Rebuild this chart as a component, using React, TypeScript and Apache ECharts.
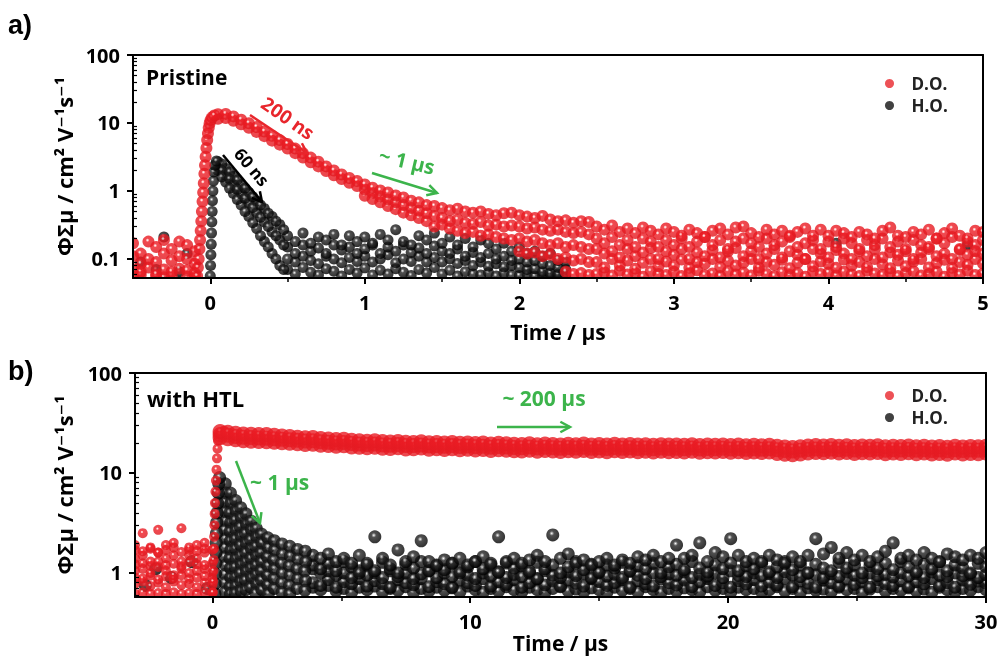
import React, { useEffect, useRef } from "react";
import * as echarts from "echarts";

const _ = null;

// ---------- Panel a (Pristine) ----------
const tA = [-0.5,-0.45,-0.4,-0.35,-0.3,-0.25,-0.2,-0.15,-0.1,-0.05,
0,0.05,0.1,0.15,0.2,0.25,0.3,0.35,0.4,0.45,
0.5,0.55,0.6,0.65,0.7,0.75,0.8,0.85,0.9,0.95,
1,1.05,1.1,1.15,1.2,1.25,1.3,1.35,1.4,1.45,
1.5,1.55,1.6,1.65,1.7,1.75,1.8,1.85,1.9,1.95,
2,2.05,2.1,2.15,2.2,2.25,2.3,2.35,2.4,2.45,
2.5,2.55,2.6,2.65,2.7,2.75,2.8,2.85,2.9,2.95,
3,3.05,3.1,3.15,3.2,3.25,3.3,3.35,3.4,3.45,
3.5,3.55,3.6,3.65,3.7,3.75,3.8,3.85,3.9,3.95,
4,4.05,4.1,4.15,4.2,4.25,4.3,4.35,4.4,4.45,
4.5,4.55,4.6,4.65,4.7,4.75,4.8,4.85,4.9,4.95,
5];

const redA1 = [0.17,0.12,0.18,0.15,0.19,0.14,0.18,0.16,0.13,_,
_,13.5,13.6,12.5,11.2,9.9,8.7,7.5,6.5,5.6,
4.9,4.2,3.6,3.1,2.7,2.3,2,1.75,1.55,1.4,
1.25,1.12,1.02,0.95,0.86,0.8,0.72,0.68,0.62,0.6,
0.56,0.52,0.55,0.5,0.48,0.5,0.46,0.44,0.47,0.48,
0.44,0.42,0.4,0.43,0.38,0.36,0.37,0.34,0.36,0.35,
0.3,0.27,0.31,0.25,0.28,0.24,0.29,0.26,0.23,0.28,
0.25,0.22,0.27,0.24,0.21,0.26,0.28,0.23,0.29,0.3,
0.24,0.21,0.27,0.23,0.26,0.22,0.25,0.28,0.22,0.27,
0.22,0.26,0.24,0.21,0.25,0.23,0.2,0.26,0.29,0.22,
0.21,0.25,0.23,0.27,0.2,0.24,0.28,0.22,0.2,0.26,
0.25];
const redA2 = [0.11,0.085,0.1,0.09,0.12,0.095,0.11,0.1,0.085,_,
_,11.5,11.8,10.8,9.6,8.5,7.4,6.4,5.5,4.8,
4.2,3.6,3.1,2.65,2.3,1.97,1.7,1.5,1.32,1.18,
1.05,0.93,0.83,0.75,0.68,0.62,0.56,0.51,0.47,0.43,
0.4,0.36,0.38,0.34,0.33,0.35,0.31,0.32,0.3,0.31,
0.3,0.28,0.29,0.27,0.26,0.27,0.25,0.24,0.25,0.23,
0.2,0.17,0.21,0.16,0.19,0.15,0.2,0.18,0.15,0.19,
0.16,0.2,0.15,0.18,0.21,0.16,0.19,0.14,0.18,0.2,
0.17,0.15,0.2,0.16,0.18,0.21,0.15,0.17,0.19,0.14,
0.18,0.15,0.2,0.17,0.14,0.19,0.16,0.2,0.15,0.18,
0.14,0.19,0.16,0.15,0.2,0.17,0.21,0.14,0.18,0.16,
0.19];
const redA3 = [0.07,0.065,0.075,0.06,0.07,0.065,0.072,0.068,0.062,_,
_,_,_,_,_,_,_,_,_,_,
_,_,_,_,_,_,_,_,_,_,
0.85,0.76,0.68,0.6,0.54,0.48,0.44,0.4,0.36,0.3,
0.32,0.28,0.26,0.24,0.25,0.22,0.23,0.21,0.2,0.19,
0.2,0.18,0.19,0.17,0.16,0.17,0.15,0.16,0.15,0.14,
0.14,0.12,0.13,0.105,0.14,0.11,0.125,0.145,0.1,0.13,
0.115,0.14,0.1,0.125,0.11,0.135,0.105,0.13,0.145,0.11,
0.13,0.1,0.12,0.14,0.105,0.13,0.115,0.1,0.14,0.12,
0.105,0.135,0.12,0.1,0.13,0.11,0.14,0.105,0.125,0.115,
0.13,0.1,0.125,0.14,0.11,0.12,0.1,0.135,0.115,0.13,
0.12];
const redA4 = [0.055,0.058,_,0.056,0.054,0.057,_,0.055,0.056,_,
_,_,_,_,_,_,_,_,_,_,
_,_,_,_,_,_,_,_,_,_,
_,_,_,_,_,_,_,_,_,_,
_,_,_,_,_,_,_,_,_,_,
0.13,0.12,0.125,0.11,0.115,0.1,0.105,0.095,0.1,0.09,
0.09,0.075,0.1,0.08,0.095,0.072,0.088,0.1,0.078,0.092,
0.08,0.098,0.074,0.09,0.085,0.1,0.076,0.094,0.08,0.088,
0.1,0.075,0.09,0.082,0.097,0.073,0.088,0.1,0.078,0.092,
0.085,0.074,0.098,0.08,0.09,0.076,0.1,0.083,0.073,0.095,
0.078,0.092,0.1,0.075,0.087,0.097,0.074,0.09,0.082,0.1,
0.086];
const redA5 = [_,_,_,_,_,_,_,_,_,_,
_,_,_,_,_,_,_,_,_,_,
_,_,_,_,_,_,_,_,_,_,
_,_,_,_,_,_,_,_,_,_,
_,_,_,_,_,_,_,_,_,_,
_,_,_,_,_,_,0.065,0.06,0.062,0.058,
0.06,0.064,0.057,0.067,0.059,0.062,0.055,0.066,0.06,0.058,
0.065,0.056,0.062,0.068,0.058,0.061,0.056,0.066,0.059,0.063,
0.057,0.067,0.06,0.056,0.064,0.058,0.062,0.055,0.066,0.06,
0.063,0.057,0.065,0.059,0.056,0.067,0.061,0.058,0.064,0.056,
0.062,0.066,0.057,0.06,0.065,0.055,0.063,0.059,0.067,0.058,
0.061];
const redRiseA = [[-0.085,0.056],[-0.08,0.075],[-0.075,0.1],[-0.07,0.14],[-0.066,0.19],[-0.062,0.26],
[-0.058,0.36],[-0.054,0.5],[-0.05,0.7],[-0.046,0.95],[-0.042,1.3],[-0.038,1.8],[-0.034,2.4],
[-0.03,3.2],[-0.025,4.3],[-0.02,5.6],[-0.015,7],[-0.01,8.5],[-0.004,9.9],[0.002,11.1],
[0.012,12.1],[0.026,12.9]];

const blackA1 = [_,_,_,_,0.21,_,_,_,_,_,
_,2.7,2.15,1.65,1.25,0.95,0.72,0.55,0.42,0.32,
0.22,0.18,0.24,0.17,0.21,0.19,0.23,0.16,0.22,0.18,
0.21,0.17,0.23,0.19,0.27,0.18,0.16,0.22,0.19,0.24,
0.17,0.21,0.16,0.2,0.15,0.19,0.17,0.14,0.17,0.13,
0.15,0.12,0.13,0.11,0.12,0.095,0.09,_,_,_,
_,_,_,_,_,_,_,_,_,_,
_,_,_,_,_,_,_,_,_,_,
_,_,_,_,_,_,_,_,_,_,
_,0.17,_,_,_,_,_,_,_,_,
_,_,_,_,_,_,_,_,0.16];
const blackA2 = [_,0.09,_,_,_,_,_,0.12,_,_,
_,2.3,1.7,1.25,0.9,0.66,0.48,0.35,0.25,0.19,
0.15,0.12,0.16,0.13,0.145,0.12,0.16,0.135,0.15,0.12,
0.14,0.16,0.12,0.15,0.13,0.16,0.125,0.145,0.12,0.155,
0.13,0.12,0.14,0.11,0.125,0.105,0.12,0.1,0.11,0.095,
0.1,0.09,0.095,0.085,0.08,0.075,0.07];
const blackA3 = [_,_,_,0.07,_,_,0.065,_,_,_,
_,2.0,1.35,0.92,0.62,0.42,0.28,0.18,0.12,0.08,
0.1,0.09,0.11,0.095,0.085,0.11,0.1,0.088,0.105,0.092,
0.11,0.09,0.1,0.115,0.088,0.1,0.092,0.11,0.09,0.105,
0.09,0.1,0.086,0.095,0.08,0.09,0.078,0.085,0.076,0.08,
0.075,0.07,0.072,0.065,0.062,0.06,0.058];
const blackA4 = [_,_,_,_,_,_,_,_,_,_,
_,_,_,_,_,_,_,_,_,_,
0.07,0.06,0.075,0.064,0.058,0.072,0.066,0.056,0.07,0.062,
0.074,0.058,0.068,0.06,0.072,0.064,0.057,0.07,0.062,0.075,
0.06,0.068,0.056,0.065,0.06,0.058,0.063,0.056,0.062,0.058,
0.057,0.06,0.056,0.058,0.056,0.057,0.055];
const blackRiseA = [[0,0.056],[0.002,0.08],[0.004,0.115],[0.006,0.165],[0.008,0.24],[0.01,0.35],
[0.012,0.5],[0.014,0.72],[0.017,1.0],[0.02,1.4],[0.024,1.9],[0.03,2.4],[0.04,2.75]];
const blackDecayA = [[0.075,2.5],[0.075,2.0],[0.075,1.6],[0.125,1.9],[0.125,1.5],[0.125,1.1],
[0.175,1.45],[0.175,1.05],[0.175,0.75],[0.225,1.1],[0.225,0.78],[0.225,0.5],
[0.275,0.82],[0.275,0.57],[0.275,0.34],[0.325,0.62],[0.325,0.41],[0.325,0.22],
[0.375,0.47],[0.375,0.3],[0.375,0.15],[0.425,0.36],[0.425,0.22],[0.425,0.1],
[0.475,0.27],[0.475,0.16],[0.475,0.07]];

// ---------- Panel b (with HTL) ----------
const tB = [-3,-2.7,-2.4,-2.1,-1.8,-1.5,-1.2,-0.9,-0.6,-0.3,
0,0.3,0.6,0.9,1.2,1.5,1.8,2.1,2.4,2.7,
3,3.3,3.6,3.9,4.2,4.5,4.8,5.1,5.4,5.7,
6,6.3,6.6,6.9,7.2,7.5,7.8,8.1,8.4,8.7,
9,9.3,9.6,9.9,10.2,10.5,10.8,11.1,11.4,11.7,
12,12.3,12.6,12.9,13.2,13.5,13.8,14.1,14.4,14.7,
15,15.3,15.6,15.9,16.2,16.5,16.8,17.1,17.4,17.7,
18,18.3,18.6,18.9,19.2,19.5,19.8,20.1,20.4,20.7,
21,21.3,21.6,21.9,22.2,22.5,22.8,23.1,23.4,23.7,
24,24.3,24.6,24.9,25.2,25.5,25.8,26.1,26.4,26.7,
27,27.3,27.6,27.9,28.2,28.5,28.8,29.1,29.4,29.7,
30];

// plateau rows start at tB index 11 (t = 0.3)
const plateauStart = 11;
const redB1 = [26,25.6,25,24.6,24.4,24.2,24.3,23.8,23.5,
23.2,22.8,22.5,22.6,22.1,21.9,21.6,21.7,21.3,21.0,
20.8,21,20.6,20.4,20.7,20.3,20.2,20.5,20.1,20.2,
19.9,20.2,19.8,20,19.7,19.9,19.5,19.8,19.6,19.4,
19.3,19.6,19.2,19.5,19.3,19.1,19.4,19.2,19.5,19.1,
19.3,19,19.4,19.1,19.3,19,19.2,18.9,19.2,19,
19.1,18.9,19.2,18.8,19,18.9,19.1,18.8,19,18.7,
18.9,18.7,18.9,18.5,18.2,18,18.3,18.6,18.8,18.6,
18.8,18.5,18.7,18.4,18.6,18.5,18.7,18.3,18.5,18.4,
18.6,18.3,18.5,18.2,18.4,18.1,18.5,18.2,18.4,18.3,
18.5];
const redB9 = [24.2,23.8,23.2,22.8,22.6,22.4,22.3,22,21.8,
21.5,21.2,20.9,21,20.5,20.3,20,20.2,19.7,19.5,
19.3,19.5,19.1,18.9,19.3,18.8,18.8,19.1,18.6,18.8,
18.5,18.8,18.4,18.6,18.3,18.5,18.1,18.4,18.2,18,
17.9,18.2,17.8,18.1,17.9,17.7,18,17.8,18.1,17.7,
17.9,17.6,18,17.7,17.9,17.6,17.8,17.5,17.8,17.6,
17.7,17.5,17.8,17.4,17.6,17.5,17.7,17.4,17.6,17.3,
17.5,17.3,17.5,17.1,16.8,16.6,16.9,17.2,17.4,17.2,
17.4,17.1,17.3,17,17.2,17.1,17.3,16.9,17.1,17,
17.2,16.9,17.1,16.8,17,16.7,17.1,16.8,17,16.9,
17.1];
const redB2 = [22.5,22,21.5,21,20.8,20.6,20.5,20.3,20.1,
19.8,19.6,19.3,19.4,18.9,18.8,18.5,18.7,18.2,18.1,
17.9,18.1,17.7,17.6,17.9,17.4,17.5,17.8,17.3,17.5,
17.2,17.5,17.1,17.3,17,17.2,16.8,17.1,16.9,16.7,
16.6,16.9,16.5,16.8,16.6,16.4,16.7,16.5,16.8,16.4,
16.6,16.3,16.7,16.4,16.6,16.3,16.5,16.2,16.5,16.3,
16.4,16.2,16.5,16.1,16.3,16.2,16.4,16.1,16.3,16,
16.2,16,16.2,15.7,15.4,15.2,15.5,15.8,16,15.9,
16.1,15.8,16,15.7,15.9,15.8,16,15.6,15.8,15.7,
15.9,15.6,15.8,15.5,15.7,15.4,15.8,15.5,15.7,15.6,
15.8];
// pre-trigger rows (tB index 0..10)
const redPre1 = [1.9,2.5,1.8,2.7,1.9,2.0,2.8,1.8,1.9,2.0];
const redPre2 = [1.4,1.5,1.3,1.6,1.4,1.5,1.3,1.5,1.4,1.6];
const redPre3 = [1.05,1.1,1.0,1.15,1.05,0.95,1.1,1.0,1.05,1.1,1.0];
const redPre4 = [0.78,0.82,0.74,0.8,0.72,0.82,0.76,0.78,0.72,0.8,0.76];
const redPre5 = [0.62,0.64,0.62,0.63,0.62,0.64,0.62,0.63,0.62,0.64,0.63];
const redPre6 = [1.7,1.65,1.75,1.6,1.7,1.8,1.62,1.7,1.66,1.75,1.7];
const redPre7 = [1.22,1.25,1.18,1.3,1.2,1.24,1.16,1.28,1.22,1.2,1.25];
const redPre8 = [0.9,0.88,0.94,0.86,0.92,0.88,0.95,0.87,0.9,0.93,0.88];
const redRiseB = [[0.02,0.64],[0.03,0.82],[0.04,1.05],[0.05,1.35],[0.06,1.75],[0.07,2.3],[0.08,3.0],
[0.09,3.9],[0.1,5.0],[0.12,6.5],[0.14,8.4],[0.16,10.8],[0.18,14],[0.2,17.5],[0.22,21],[0.26,24.5],[0.45,26.5]];

const blackPreB = [[-2.2,1.1],[-1.6,0.9],[-0.8,1.3],[-2.6,0.75],[-0.2,0.7]];
const blackRiseB = [[0.1,0.62],[0.11,0.78],[0.12,0.98],[0.13,1.25],[0.14,1.6],[0.15,2.0],[0.16,2.5],
[0.17,3.2],[0.19,4.0],[0.21,5.0],[0.23,6.3],[0.25,7.8],[0.28,9.0]];
const blackDecayB = [
[0.5,7.8],[0.52,6.3],[0.48,5.1],[0.5,4.1],[0.53,3.3],[0.49,2.7],[0.51,2.2],[0.5,1.8],[0.48,1.45],[0.52,1.2],[0.5,0.97],[0.49,0.8],[0.51,0.65],
[0.7,6.3],[0.72,5.0],[0.68,4.0],[0.71,3.2],[0.69,2.6],[0.7,2.1],[0.72,1.7],[0.68,1.4],[0.7,1.12],[0.71,0.9],[0.69,0.73],[0.7,0.62],
[0.9,5.3],[0.92,4.2],[0.88,3.4],[0.91,2.7],[0.89,2.2],[0.9,1.75],[0.92,1.4],[0.88,1.15],[0.9,0.92],[0.91,0.75],[0.89,0.63],
[1.1,4.5],[1.12,3.6],[1.08,2.9],[1.11,2.35],[1.09,1.9],[1.1,1.5],[1.12,1.22],[1.08,1.0],[1.1,0.82],[1.11,0.66],
[1.3,3.9],[1.32,3.1],[1.28,2.5],[1.31,2.0],[1.29,1.6],[1.3,1.3],[1.32,1.05],[1.28,0.85],[1.3,0.68],
[1.5,3.3],[1.52,2.7],[1.48,2.15],[1.51,1.75],[1.49,1.4],[1.5,1.13],[1.52,0.9],[1.48,0.72],
[1.7,2.8],[1.72,2.3],[1.68,1.85],[1.71,1.5],[1.69,1.2],[1.7,0.97],[1.72,0.78],[1.68,0.63],
[1.9,2.45],[1.92,2.0],[1.88,1.6],[1.91,1.3],[1.89,1.05],[1.9,0.85],[1.92,0.68],
[2.15,2.25],[2.17,1.8],[2.13,1.45],[2.16,1.18],[2.14,0.95],[2.15,0.76],[2.17,0.62],
[2.4,2.1],[2.42,1.7],[2.38,1.35],[2.41,1.1],[2.39,0.88],[2.4,0.7],
[2.7,1.95],[2.72,1.55],[2.68,1.25],[2.71,1.0],[2.69,0.8],[2.7,0.64],
[3.0,1.85],[3.02,1.48],[2.98,1.18],[3.01,0.95],[2.99,0.75],[3.0,0.62],
[3.3,1.72],[3.32,1.38],[3.28,1.1],[3.31,0.88],[3.29,0.7],
[3.6,1.65],[3.62,1.3],[3.58,1.05],[3.61,0.84],[3.59,0.67]];
// noise rows start at tB index 23 (t = 3.9)
const blackBStart = 23;
const blackB1 = [1.5,1.4,1.55,1.3,1.4,1.25,1.5,
1.25,2.3,1.4,1.2,1.7,1.3,1.45,2.1,1.3,1.2,
1.35,1.25,1.4,1.2,1.3,1.45,1.25,2.3,1.3,1.4,
1.25,1.35,1.5,1.3,2.4,1.4,1.55,1.25,1.35,1.2,
1.3,1.4,1.2,1.35,1.25,1.45,1.35,1.5,1.3,1.4,
1.9,1.4,1.5,2.0,1.3,1.6,1.45,2.2,1.5,1.3,
1.4,1.3,1.5,1.35,1.25,1.45,1.3,1.5,2.2,1.55,
1.8,1.4,1.6,1.35,1.5,1.3,1.45,1.65,2.0,1.4,
1.5,1.35,1.6,1.4,1.3,1.55,1.45,1.35,1.5,1.4,1.6];
const blackB4 = [1.2,1.1,1.25,1.05,1.3,1.15,1.0,
1.2,1.05,1.28,1.1,1.0,1.22,1.12,1.3,1.05,1.18,
1.08,1.25,1.0,1.15,1.3,1.1,1.2,1.02,1.26,1.12,
1.18,1.04,1.28,1.1,1.2,1.0,1.15,1.3,1.08,1.22,
1.02,1.2,1.12,1.28,1.05,1.18,1.1,1.25,1.0,1.15,
1.22,1.08,1.3,1.12,1.02,1.2,1.1,1.26,1.05,1.18,
1.1,1.25,1.02,1.15,1.3,1.08,1.2,1.0,1.22,1.12,
1.05,1.28,1.12,1.2,1.0,1.18,1.1,1.25,1.08,1.3,
1.15,1.02,1.22,1.1,1.28,1.05,1.2,1.12,1.0,1.25,1.15];
const blackB2 = [1.1,1.0,1.05,0.95,1.0,0.9,1.05,
0.95,1.0,0.9,1.05,0.92,1.0,0.88,0.98,1.05,0.9,
1.0,0.92,1.05,0.95,0.88,1.0,0.93,1.02,0.9,0.97,
0.92,1.0,0.88,1.05,0.95,0.9,1.02,0.94,0.98,0.9,
1.0,0.93,0.97,0.9,1.04,0.95,0.88,1.0,0.92,0.98,
0.95,1.02,0.9,0.97,0.93,1.0,0.9,1.05,0.95,0.92,
1.0,0.94,0.98,0.9,1.03,0.95,0.92,1.0,0.96,0.9,
0.98,0.92,1.02,0.95,0.9,1.0,0.94,0.97,0.91,1.0,
0.93,0.98,0.9,1.02,0.95,0.92,1.0,0.94,0.97,0.9,0.96];
const blackB5 = [0.8,0.75,0.86,0.72,0.82,0.78,0.88,
0.74,0.84,0.78,0.72,0.86,0.8,0.76,0.88,0.73,0.82,
0.78,0.72,0.85,0.8,0.75,0.88,0.74,0.82,0.77,0.86,
0.72,0.8,0.87,0.76,0.83,0.73,0.85,0.79,0.74,0.88,
0.82,0.75,0.8,0.86,0.72,0.84,0.78,0.74,0.87,0.8,
0.76,0.85,0.73,0.82,0.88,0.75,0.8,0.72,0.84,0.78,
0.86,0.74,0.81,0.76,0.88,0.73,0.83,0.79,0.72,0.85,
0.8,0.74,0.87,0.77,0.82,0.72,0.86,0.78,0.75,0.84,
0.73,0.82,0.78,0.88,0.75,0.8,0.72,0.85,0.77,0.83,0.79];
const blackB3 = [0.72,0.68,0.75,0.66,0.7,0.64,0.72,
0.68,0.74,0.65,0.7,0.67,0.73,0.64,0.7,0.66,0.72,
0.67,0.71,0.65,0.74,0.68,0.64,0.7,0.66,0.73,0.68,
0.65,0.72,0.68,0.64,0.7,0.74,0.66,0.69,0.65,0.71,
0.68,0.64,0.72,0.67,0.7,0.65,0.73,0.68,0.64,0.7,
0.66,0.71,0.68,0.65,0.73,0.67,0.7,0.64,0.72,0.68,
0.7,0.65,0.68,0.73,0.66,0.7,0.64,0.71,0.67,0.69,
0.65,0.72,0.68,0.7,0.64,0.69,0.73,0.66,0.7,0.67,
0.71,0.66,0.69,0.64,0.72,0.68,0.65,0.7,0.67,0.73,0.68];

// ---------- axis ticks ----------
const xMajorA = [0, 1, 2, 3, 4, 5];
const xMinorA = [0.5, 1.5, 2.5, 3.5, 4.5];
const yMajorA = [0.1, 1, 10, 100];
const yMinorA = [0.06,0.07,0.08,0.09,0.2,0.3,0.4,0.5,0.6,0.7,0.8,0.9,2,3,4,5,6,7,8,9,20,30,40,50,60,70,80,90];
const xMajorB = [0, 10, 20, 30];
const xMinorB = [5, 15, 25];
const yMajorB = [1, 10, 100];
const yMinorB = [0.6,0.7,0.8,0.9,2,3,4,5,6,7,8,9,20,30,40,50,60,70,80,90];

const FONT = "'Open Sans', 'DejaVu Sans', sans-serif";
const RED = "#e8262c";
const GREEN = "#3cb44b";

function rowsToPoints(t: number[], rows: (number | null)[][], offset = 0): number[][] {
  const pts: number[][] = [];
  for (const r of rows) {
    r.forEach((v, i) => {
      if (v != null) pts.push([t[i + offset], v]);
    });
  }
  return pts;
}

const redBall = {
  type: "radial", x: 0.42, y: 0.38, r: 0.6,
  colorStops: [
    { offset: 0, color: "#ffffff" },
    { offset: 0.1, color: "#ffc0c0" },
    { offset: 0.26, color: "#ee1c24" },
    { offset: 1, color: "#e0181f" },
  ],
};
const redFlat = {
  type: "radial", x: 0.45, y: 0.4, r: 0.6,
  colorStops: [
    { offset: 0, color: "#f25a5f" },
    { offset: 0.2, color: "#ec1c24" },
    { offset: 1, color: "#e41a22" },
  ],
};
const blackBall = {
  type: "radial", x: 0.42, y: 0.38, r: 0.6,
  colorStops: [
    { offset: 0, color: "#ffffff" },
    { offset: 0.1, color: "#b0b0b0" },
    { offset: 0.3, color: "#252525" },
    { offset: 1, color: "#000000" },
  ],
};

const lineStyle = { color: "#000", width: 2 };
const labelStyle = { color: "#000", fontSize: 20, fontWeight: "bold", fontFamily: FONT };
const nameStyle = { color: "#000", fontSize: 22, fontWeight: "bold", fontFamily: FONT };

function xAxes(gridIndex: number, min: number, max: number, majors: number[], minors: number[], nameGap: number) {
  return [
    {
      type: "value", gridIndex, min, max, position: "bottom", z: 4,
      axisLine: { show: true, onZero: false, lineStyle },
      axisTick: { show: true, customValues: majors, length: 6, lineStyle: { color: "#000", width: 2 } },
      axisLabel: { show: true, customValues: majors, margin: 14, ...labelStyle },
      splitLine: { show: false },
      name: "Time / μs", nameLocation: "middle", nameGap,
      nameTextStyle: { ...nameStyle, fontSize: 21 },
    },
    {
      type: "value", gridIndex, min, max, position: "bottom", z: 4,
      axisLine: { show: false, onZero: false },
      axisTick: { show: true, customValues: minors, length: 4, lineStyle: { color: "#000", width: 1.5 } },
      axisLabel: { show: false },
      splitLine: { show: false },
    },
    {
      type: "value", gridIndex, min, max, position: "top", z: 4,
      axisLine: { show: true, onZero: false, lineStyle },
      axisTick: { show: false }, axisLabel: { show: false }, splitLine: { show: false },
    },
  ];
}

function yAxes(gridIndex: number, min: number, majors: number[], minors: number[], nameGap: number) {
  return [
    {
      type: "log", logBase: 10, gridIndex, min, max: 100, position: "left", z: 4,
      axisLine: { show: true, onZero: false, lineStyle },
      axisTick: { show: true, customValues: majors, length: 6, lineStyle: { color: "#000", width: 2 } },
      axisLabel: {
        show: true, customValues: majors, margin: 13, ...labelStyle,
        formatter: (v: number) => String(+Number(v).toPrecision(4)),
      },
      splitLine: { show: false },
      name: "ΦΣμ / cm² V⁻¹s⁻¹", nameLocation: "middle", nameGap, nameRotate: 90,
      nameTextStyle: nameStyle,
    },
    {
      type: "log", logBase: 10, gridIndex, min, max: 100, position: "left", z: 4,
      axisLine: { show: false, onZero: false },
      axisTick: { show: true, inside: true, customValues: minors, length: 4, lineStyle: { color: "#000", width: 1.2 } },
      axisLabel: { show: false },
      splitLine: { show: false },
    },
    {
      type: "value", gridIndex, min: 0, max: 1, position: "right", z: 4,
      axisLine: { show: true, onZero: false, lineStyle },
      axisTick: { show: false }, axisLabel: { show: false }, splitLine: { show: false },
    },
  ];
}

function arrow(x0: number, y0: number, x1: number, y1: number, color: string) {
  const ang = Math.atan2(y1 - y0, x1 - x0);
  const h = 11;
  const a1 = ang + Math.PI - 0.5;
  const a2 = ang + Math.PI + 0.5;
  return [
    { type: "line", z: 10, shape: { x1: x0, y1: y0, x2: x1, y2: y1 }, style: { stroke: color, lineWidth: 2.5 } },
    {
      type: "polyline", z: 10,
      shape: { points: [[x1 + h * Math.cos(a1), y1 + h * Math.sin(a1)], [x1, y1], [x1 + h * Math.cos(a2), y1 + h * Math.sin(a2)]] },
      style: { stroke: color, lineWidth: 2.5, fill: "none" },
    },
  ];
}

function label(text: string, x: number, y: number, size: number, color: string, align = "left", rotation = 0, family = FONT) {
  return {
    type: "text", z: 10, x, y, rotation,
    style: {
      text, fill: color, fontSize: size, fontWeight: "bold", fontFamily: family,
      align, textAlign: align, verticalAlign: "middle", textVerticalAlign: "middle",
    },
  };
}

function mask(x: number, y: number, w: number, h: number) {
  return { type: "rect", z: 3, silent: true, shape: { x, y, width: w, height: h }, style: { fill: "#ffffff" } };
}

export default function App() {
  const ref = useRef<HTMLDivElement>(null);

  useEffect(() => {
    if (!ref.current) return;
    const chart = echarts.init(ref.current, undefined, { renderer: "svg" });

    const redAData = [...rowsToPoints(tA, [redA5, redA4, redA3, redA2, redA1]), ...redRiseA];
    const blackAData = [...rowsToPoints(tA, [blackA4, blackA3, blackA2, blackA1]), ...blackDecayA, ...blackRiseA];
    const redBPlateau = rowsToPoints(tB, [redB2, redB9, redB1], plateauStart);
    const redBOther = [
      ...rowsToPoints(tB, [redPre5, redPre4, redPre8, redPre3, redPre7, redPre2, redPre6, redPre1]),
      ...redRiseB,
    ];
    const blackBData = [
      ...blackPreB,
      ...rowsToPoints(tB, [blackB3, blackB5, blackB2, blackB4, blackB1], blackBStart),
      ...blackDecayB,
      ...blackRiseB,
    ];

    const legendBase = {
      orient: "vertical", left: 880, itemWidth: 34, itemHeight: 9, itemGap: 5, icon: "circle",
      selectedMode: false,
      textStyle: { fontSize: 17, fontWeight: "bold", color: "#222", fontFamily: FONT },
      data: [
        { name: "D.O.", itemStyle: { color: RED } },
        { name: "H.O.", itemStyle: { color: "#111" } },
      ],
    };

    const scatter = (name: string, xi: number, yi: number, data: number[][], size: number, color: any) => ({
      type: "scatter", name, xAxisIndex: xi, yAxisIndex: yi, data, symbol: "circle", symbolSize: size,
      itemStyle: { color }, z: 2, silent: true, emphasis: { disabled: true },
    });

    chart.setOption({
      animation: false,
      grid: [
        { left: 133, top: 55, width: 850, height: 223, outerBoundsMode: "none", containLabel: false },
        { left: 135, top: 373, width: 851, height: 224, outerBoundsMode: "none", containLabel: false },
      ],
      xAxis: [
        ...xAxes(0, -0.5, 5, xMajorA, xMinorA, 43),
        ...xAxes(1, -3, 30, xMajorB, xMinorB, 35),
      ],
      yAxis: [
        ...yAxes(0, 0.0525, yMajorA, yMinorA, 58),
        ...yAxes(1, 0.575, yMajorB, yMinorB, 60),
      ],
      legend: [
        { ...legendBase, top: 70 },
        { ...legendBase, top: 382 },
      ],
      series: [
        scatter("H.O.", 0, 0, blackAData, 11, blackBall),
        scatter("D.O.", 0, 0, redAData, 12, redBall),
        scatter("H.O.", 3, 3, blackBData, 13, blackBall),
        scatter("D.O.", 3, 3, redBOther, 10, redBall),
        scatter("D.O.", 3, 3, redBPlateau, 15, redFlat),
      ],
      graphic: [
        mask(110, 279, 885, 10), mask(121, 48, 11, 236), mask(984, 48, 15, 236),
        mask(110, 598, 885, 10), mask(123, 366, 11, 236), mask(987, 366, 12, 236),
        label("a)", 8, 25, 27, "#000", "left", 0, "'Liberation Sans', Arial, sans-serif"),
        label("b)", 8, 371, 27, "#000", "left", 0, "'Liberation Sans', Arial, sans-serif"),
        label("Pristine", 146, 77, 21, "#000"),
        label("200 ns", 288, 118, 19, RED, "center", -0.61),
        label("60 ns", 252, 167, 17, "#000", "center", -0.87),
        label("~ 1 μs", 407, 161, 20, GREEN, "center", -0.23),
        ...arrow(250, 115, 307, 153, RED),
        ...arrow(223, 155, 262, 202, "#000"),
        ...arrow(372, 173, 437, 193, GREEN),
        label("with HTL", 147, 398, 22, "#000"),
        label("~ 200 μs", 544, 398, 21, GREEN, "center"),
        label("~ 1 μs", 250, 482, 21, GREEN),
        ...arrow(497, 427, 570, 427, GREEN),
        ...arrow(236, 461, 260, 523, GREEN),
      ],
    });

    return () => chart.dispose();
  }, []);

  return <div ref={ref} style={{ position: "fixed", left: 0, top: 0, width: 999, height: 656 }} />;
}
